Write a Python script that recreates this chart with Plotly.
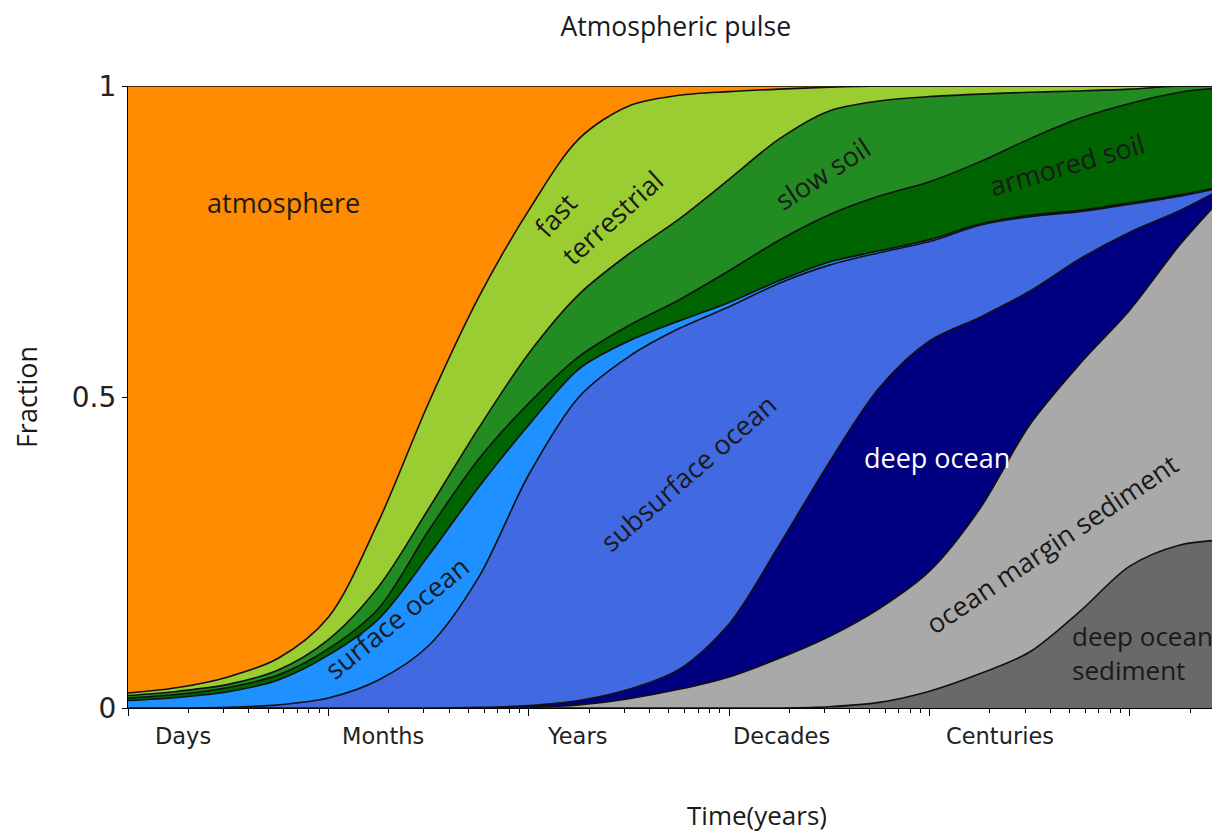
import math
import plotly.graph_objects as go

# ---- data ----
time_years = [0.001, 0.00178, 0.00316, 0.00562, 0.01, 0.0178, 0.0316, 0.0562,
              0.1, 0.178, 0.316, 0.562, 1, 1.78, 3.16, 5.62, 10, 17.8, 31.6,
              56.2, 100, 178, 282]

# cumulative fraction at the top of each reservoir (stacked from the bottom)
deep_ocean_sediment_top = [0, 0, 0, 0, 0, 0, 0, 0, 0, 0, 0, 0, 0, 0,
                           0.002, 0.009, 0.027, 0.055, 0.09, 0.155, 0.228, 0.262, 0.27]
ocean_margin_sediment_top = [0, 0, 0, 0, 0, 0, 0, 0,
                             0.001, 0.005, 0.015, 0.03, 0.05, 0.08, 0.115, 0.16,
                             0.22, 0.32, 0.455, 0.553, 0.64, 0.745, 0.817]
deep_ocean_top = [0, 0, 0, 0, 0, 0, 0,
                  0.001, 0.004, 0.012, 0.03, 0.062, 0.135, 0.262, 0.395, 0.515,
                  0.59, 0.628, 0.67, 0.722, 0.765, 0.80, 0.833]
subsurface_ocean_top = [0, 0, 0.001, 0.005, 0.016, 0.045, 0.10, 0.21, 0.375, 0.50,
                        0.565, 0.61, 0.645, 0.683, 0.712, 0.732, 0.75, 0.776,
                        0.79, 0.798, 0.81, 0.823, 0.836]
surface_ocean_top = [0.012, 0.017, 0.026, 0.045, 0.085, 0.143, 0.245, 0.355, 0.455,
                     0.545, 0.59, 0.622, 0.652, 0.687, 0.717, 0.735, 0.753, 0.778,
                     0.792, 0.80, 0.812, 0.825, 0.838]
armored_soil_top = [0.016, 0.022, 0.033, 0.053, 0.095, 0.16, 0.285, 0.40, 0.49, 0.565,
                    0.615, 0.656, 0.703, 0.752, 0.793, 0.823, 0.846, 0.878, 0.915,
                    0.948, 0.972, 0.99, 0.997]
slow_soil_top = [0.020, 0.027, 0.038, 0.061, 0.11, 0.195, 0.32, 0.45, 0.57, 0.665,
                 0.73, 0.786, 0.85, 0.915, 0.96, 0.976, 0.983, 0.987, 0.99,
                 0.992, 0.995, 1.0, 1.0]
fast_terrestrial_top = [0.024, 0.033, 0.050, 0.080, 0.146, 0.30, 0.49, 0.66, 0.80,
                        0.915, 0.968, 0.985, 0.991, 0.995, 0.998, 1, 1, 1, 1, 1,
                        1, 1, 1]
atmosphere_top = [1] * len(time_years)

layers = [
    ("deep ocean sediment", deep_ocean_sediment_top, "#696969"),
    ("ocean margin sediment", ocean_margin_sediment_top, "#a9a9a9"),
    ("deep ocean", deep_ocean_top, "#000080"),
    ("subsurface ocean", subsurface_ocean_top, "#4169e1"),
    ("surface ocean", surface_ocean_top, "#1e90ff"),
    ("armored soil", armored_soil_top, "#006400"),
    ("slow soil", slow_soil_top, "#228b22"),
    ("fast terrestrial", fast_terrestrial_top, "#9acd32"),
    ("atmosphere", atmosphere_top, "#ff8c00"),
]

period_labels = ["Days", "Months", "Years", "Decades", "Centuries"]
period_label_times = [0.00188, 0.0188, 0.174, 1.82, 22.4]

y_ticks = [0, 0.5, 1]
y_tick_text = ["0", "0.5", "1"]

# in-area labels: text, time (years), fraction, angle, colour
area_labels = [
    ("atmosphere", 0.00596, 0.812, 0, "#1a1a1a"),
    ("fast", 0.1365, 0.793, -48, "#1a1a1a"),
    ("terrestrial", 0.26, 0.789, -42, "#1a1a1a"),
    ("slow soil", 2.92, 0.86, -33, "#1a1a1a"),
    ("armored soil", 48.4, 0.874, -16, "#1a1a1a"),
    ("surface ocean", 0.0219, 0.145, -39, "#1a1a1a"),
    ("subsurface ocean", 0.624, 0.379, -41, "#1a1a1a"),
    ("deep ocean", 10.96, 0.402, 0, "white"),
    ("ocean margin sediment", 40.7, 0.265, -34, "#1a1a1a"),
]
sediment_label = ("deep ocean<br>sediment", 50.1, 0.088)

LABEL_FONT = "Open Sans"

fig = go.Figure()
for i, (name, top, color) in enumerate(layers):
    fig.add_trace(go.Scatter(
        x=time_years, y=top, name=name, mode="lines",
        line=dict(color="#111111", width=1.6, shape="spline", smoothing=0.9),
        fill="tozeroy" if i == 0 else "tonexty",
        fillcolor=color, showlegend=False, hoverinfo="skip",
    ))

annotations = []
for text, t, v, ang, col in area_labels:
    annotations.append(dict(
        x=math.log10(t), y=v, xref="x", yref="y", text=text,
        showarrow=False, textangle=ang,
        font=dict(family=LABEL_FONT, size=27, color=col),
    ))
annotations.append(dict(
    x=math.log10(sediment_label[1]), y=sediment_label[2], xref="x", yref="y",
    text=sediment_label[0], showarrow=False, align="left", xanchor="left",
    font=dict(family=LABEL_FONT, size=26, color="#1a1a1a"),
))
# time-period tick labels under the axis
for lab, t in zip(period_labels, period_label_times):
    annotations.append(dict(
        x=math.log10(t), y=0, xref="x", yref="paper", text=lab,
        showarrow=False, yanchor="top", yshift=-13,
        font=dict(family="DejaVu Sans", size=22.5, color="#222222"),
    ))
# x-axis title (placed right of centre, as in the reference)
annotations.append(dict(
    x=0.576, y=-0.172, xref="paper", yref="paper", text="Time(years)",
    showarrow=False, xanchor="center", yanchor="middle",
    font=dict(family=LABEL_FONT, size=26, color="#1a1a1a"),
))

major_ticks = [10.0 ** k for k in range(-3, 3)]
minor_ticks = [m * 10.0 ** k for k in range(-3, 3) for m in range(2, 10)]

fig.update_layout(
    width=1212, height=828,
    margin=dict(l=120, r=0, t=78, b=128),
    paper_bgcolor="white", plot_bgcolor="white",
    title=dict(text="Atmospheric pulse", x=0.551, y=0.977, xanchor="center",
               yanchor="middle",
               font=dict(family=LABEL_FONT, size=26.5, color="#1a1a1a")),
    xaxis=dict(type="log", range=[-3, 2.45], tickvals=major_ticks,
               showticklabels=False, ticks="outside", ticklen=7,
               tickcolor="black", showline=True, linecolor="black",
               linewidth=1.2, showgrid=False, zeroline=False,
               minor=dict(tickvals=minor_ticks, ticks="outside", ticklen=4,
                          tickcolor="black", showgrid=False),
               automargin=False),
    yaxis=dict(range=[0, 1], tickvals=y_ticks, ticktext=y_tick_text,
               ticks="outside", ticklen=5, tickcolor="black", showline=True,
               linecolor="black", linewidth=1.2, showgrid=False,
               zeroline=False, automargin=False,
               tickfont=dict(family="DejaVu Sans", size=28, color="#222222"),
               title=dict(text="Fraction", standoff=33,
                          font=dict(family=LABEL_FONT, size=27,
                                    color="#1a1a1a"))),
    annotations=annotations,
)

fig.write_html("out.html")
